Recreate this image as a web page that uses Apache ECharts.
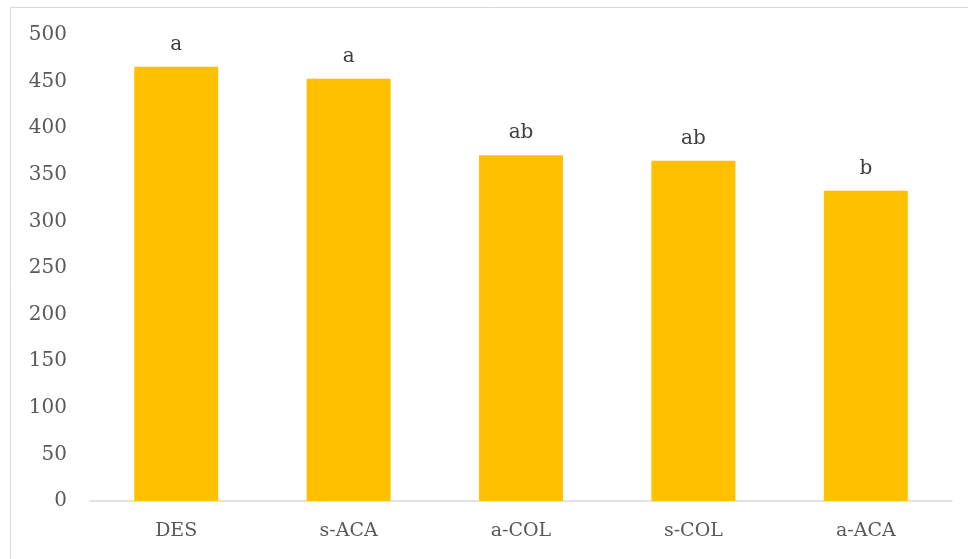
<!DOCTYPE html>
<html><head><meta charset="utf-8">
<script src="https://cdn.jsdelivr.net/npm/echarts@6/dist/echarts.min.js"></script>
<style>html,body{margin:0;padding:0;background:#fff}#c{width:968px;height:559px}</style>
</head><body><div id="c"></div>
<script>
var categories = ['DES', 's-ACA', 'a-COL', 's-COL', 'a-ACA'];
var values = [466, 453, 371, 365, 333];
var letters = ['a', 'a', 'ab', 'ab', 'b'];
var yTicks = [0, 50, 100, 150, 200, 250, 300, 350, 400, 450, 500];

var chart = echarts.init(document.getElementById('c'), null, {renderer: 'canvas'});
var font = 'DejaVu Serif';
chart.setOption({
  animation: false,
  backgroundColor: '#fff',
  graphic: [{type: 'rect', shape: {x: 10.5, y: 7.5, width: 1000, height: 600}, style: {fill: 'none', stroke: '#D9D9D9', lineWidth: 1}, silent: true}],
  grid: {left: 90, right: 16, top: 35, bottom: 58},
  xAxis: {
    type: 'category', data: categories,
    axisLine: {lineStyle: {color: '#D9D9D9', width: 1.5}},
    axisTick: {show: false},
    axisLabel: {color: '#595959', fontFamily: font, fontSize: 19, margin: 21}
  },
  yAxis: {
    type: 'value', min: yTicks[0], max: yTicks[yTicks.length - 1], interval: 50,
    axisLine: {show: false}, axisTick: {show: false}, splitLine: {show: false},
    axisLabel: {color: '#595959', fontFamily: font, fontSize: 20, margin: 23}
  },
  series: [{
    type: 'bar', data: values, barWidth: '48.7%',
    itemStyle: {color: '#FFC000'},
    label: {show: true, position: 'top', distance: 12, color: '#404040', fontFamily: font, fontSize: 20,
      formatter: function (p) { return letters[p.dataIndex]; }}
  }]
});
</script></body></html>
